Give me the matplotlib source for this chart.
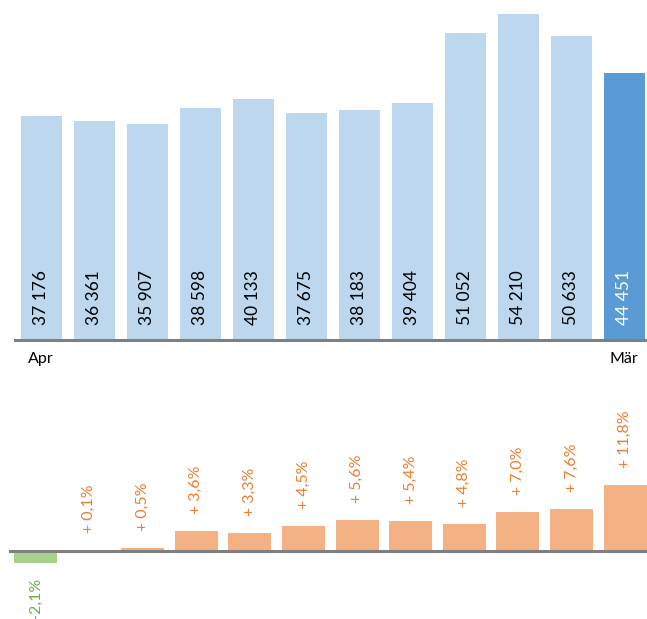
import matplotlib.pyplot as plt

plt.rcParams['font.family'] = ['Lato', 'DejaVu Sans']

months = ['Apr', 'Mai', 'Jun', 'Jul', 'Aug', 'Sep', 'Okt', 'Nov', 'Dez', 'Jan', 'Feb', 'Mär']
values = [37176, 36361, 35907, 38598, 40133, 37675, 38183, 39404, 51052, 54210, 50633, 44451]
changes = [-2.1, 0.1, 0.5, 3.6, 3.3, 4.5, 5.6, 5.4, 4.8, 7.0, 7.6, 11.8]

W, H = 647, 619


def px_axes(fig, left, top, right, bottom):
    # axes placed by pixel edges (y measured from top)
    return fig.add_axes([left / W, 1 - bottom / H, (right - left) / W, (bottom - top) / H])


def fmt_num(v):
    return f'{v:,}'.replace(',', ' ')


def fmt_pct(p):
    s = f'{abs(p):.1f}'.replace('.', ',') + '%'
    return ('+ ' if p >= 0 else '-') + s


fig = plt.figure(figsize=(W / 100, H / 100), dpi=100)

# totals per month
ax1 = px_axes(fig, 14.8, 14, 650.8, 340)
x = range(len(values))
colors = ['#BDD7EE'] * (len(values) - 1) + ['#5B9BD5']
ax1.bar(x, values, width=0.77, color=colors)
ax1.set_xlim(-0.5, len(values) - 0.5)
ax1.set_ylim(0, max(values))
ax1.axhline(0, color='#7F7F7F', lw=2.2, clip_on=False)
for i, v in enumerate(values):
    ax1.annotate(fmt_num(v), (i, 0), xytext=(0, 10.8), textcoords='offset points',
                 rotation=90, ha='center', va='bottom', fontsize=12.5,
                 color='white' if i == len(values) - 1 else 'black')
ax1.set_xticks([0, len(values) - 1], [months[0], months[-1]])
ax1.tick_params(length=0, labelsize=11.5, pad=9)
for s in ax1.spines.values():
    s.set_visible(False)
ax1.set_yticks([])

# change vs previous year, in percent
scale = 5.57
base = 551
ax2 = px_axes(fig, 8.7, 380, 651.9, 619)
pcol = ['#A9D18E' if c < 0 else '#F4B183' for c in changes]
ax2.bar(x, changes, width=0.8, color=pcol)
ax2.set_xlim(-0.5, len(changes) - 0.5)
ax2.set_ylim(-(619 - base) / scale, (base - 380) / scale)
ax2.axhline(0, color='#7F7F7F', lw=2.2)
for i, c in enumerate(changes):
    if c >= 0:
        ax2.annotate(fmt_pct(c), (i, c), xytext=(0, 12.2), textcoords='offset points',
                     rotation=90, ha='center', va='bottom', fontsize=11.5, color='#ED7D31')
    else:
        ax2.annotate(fmt_pct(c), (i, c), xytext=(0, -10.5), textcoords='offset points',
                     rotation=90, ha='center', va='top', fontsize=11.5, color='#70AD47')
ax2.axis('off')

fig.savefig('out.png', dpi=100)
